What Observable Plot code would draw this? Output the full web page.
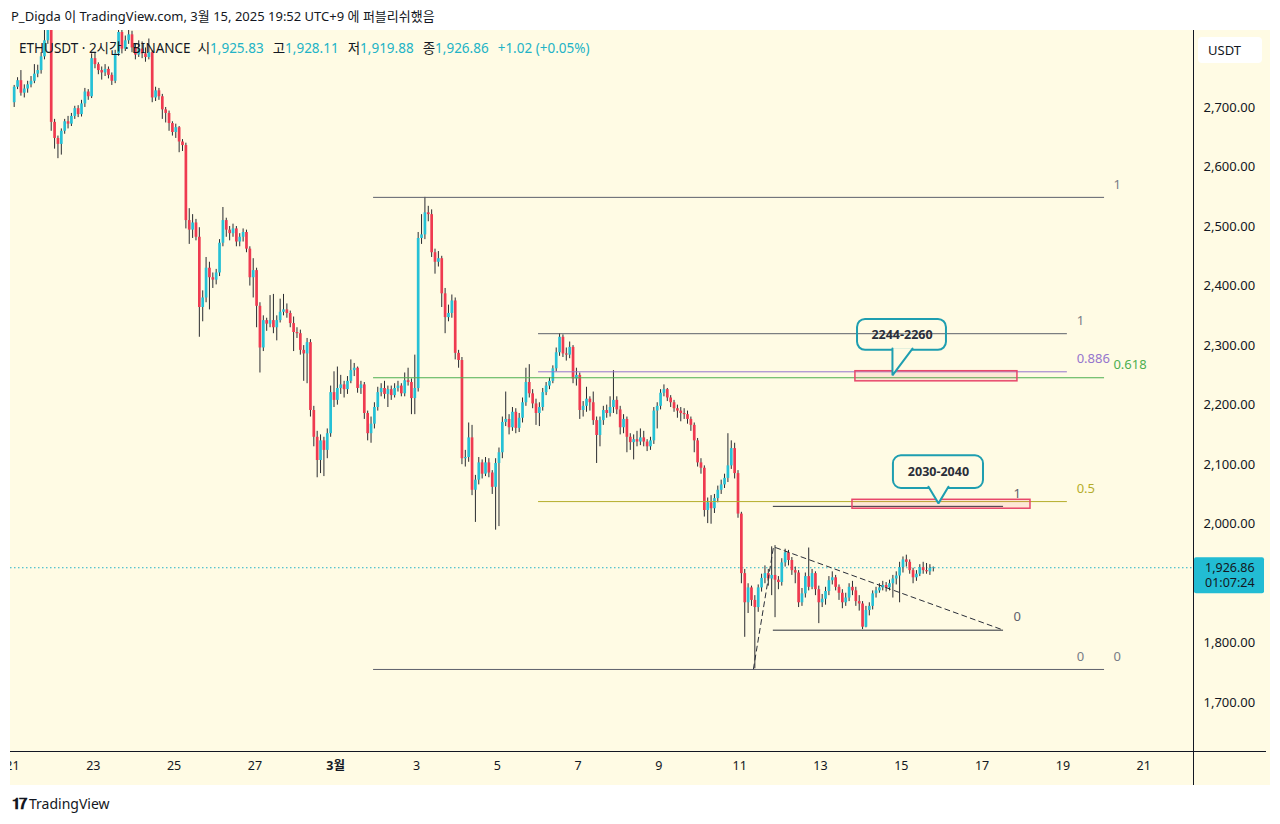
<!DOCTYPE html>
<html><head><meta charset="utf-8">
<script src="https://cdn.jsdelivr.net/npm/d3@7"></script>
<script src="https://cdn.jsdelivr.net/npm/@observablehq/plot@0.6"></script>
<style>
body{margin:0;width:1280px;height:824px;position:relative;overflow:hidden;background:#fff;font-family:"Noto Sans","Noto Sans CJK KR",sans-serif;color:#131722}
#pub{position:absolute;left:11px;top:7px;font-size:13px;line-height:18px;white-space:nowrap}
#chart{position:absolute;left:10px;top:30px;}
#legend{position:absolute;left:19px;top:39px;font-size:13.5px;line-height:18px;white-space:nowrap;color:#131722}
#legend .v{color:#22b3c6;margin-right:9px}
#foot{position:absolute;left:12px;top:794px;font-size:14px;line-height:18px;white-space:nowrap;color:#131722}
#foot b{font-size:15px;letter-spacing:-1px;margin-right:3px}
</style></head><body>
<div id="pub">P_Digda 이 TradingView.com, 3월 15, 2025 19:52 UTC+9 에 퍼블리쉬했음</div>
<div id="chart"></div>
<div id="legend">ETHUSDT · 2시간 · BINANCE &nbsp;시<span class="v">1,925.83</span>고<span class="v">1,928.11</span>저<span class="v">1,919.88</span>종<span class="v">1,926.86</span><span class="v">+1.02 (+0.05%)</span></div>
<div id="foot"><b>𝟏𝟕</b>TradingView</div>
<script>
// ---- data: 2-hour candles ETHUSDT, first candle 2025-02-21 01:00 (UTC+9) ----
const firstOpen = 2708;
const closes = [
2734,2745,2724,2731,2738,2744,2756,2762,2785,2812,
2832,2675,2648,2638,2660,2676,2672,2685,2698,2688,
2706,2726,2718,2782,2772,2762,2758,2764,2754,2744,
2790,2826,2798,2812,2822,2800,2788,2798,2790,2784,
2792,2716,2728,2718,2696,2690,2673,2658,2666,2642,
2636,2510,2494,2506,2482,2364,2380,2430,2414,2410,
2422,2472,2510,2494,2488,2496,2474,2482,2490,2462,
2414,2426,2366,2296,2342,2336,2342,2330,2342,2356,
2360,2354,2337,2322,2320,2292,2286,2305,2191,2146,
2107,2140,2124,2152,2221,2208,2228,2234,2226,2240,
2258,2262,2228,2234,2186,2152,2168,2196,2221,2228,
2218,2226,2216,2228,2232,2219,2241,2238,2211,2228,
2480,2486,2523,2520,2456,2440,2446,2387,2347,2354,
2375,2287,2275,2110,2112,2145,2057,2074,2103,2084,
2103,2086,2062,2102,2120,2171,2176,2162,2188,2161,
2178,2204,2238,2219,2202,2186,2196,2221,2232,2240,
2261,2288,2314,2286,2284,2297,2244,2250,2191,2198,
2210,2204,2174,2149,2174,2191,2186,2196,2208,2192,
2162,2176,2146,2137,2142,2138,2145,2138,2130,2140,
2190,2198,2220,2226,2212,2204,2194,2190,2186,2184,
2176,2166,2140,2103,2094,2023,2036,2026,2043,2057,
2066,2077,2098,2127,2085,2017,1917,1868,1893,1872,
1860,1893,1909,1917,1908,1914,1906,1902,1935,1952,
1939,1922,1918,1868,1883,1912,1894,1917,1890,1868,
1874,1887,1905,1910,1894,1884,1868,1876,1894,1888,
1870,1866,1827,1855,1862,1883,1888,1893,1897,1893,
1900,1908,1913,1927,1940,1936,1922,1910,1916,1927,
1922,1920,1925.84,1926.86];
const highs = [
2737,2750,2762,2738,2744,2752,2772,2771,2792,2840,
2856,2838,2680,2652,2664,2680,2685,2690,2702,2703,
2712,2732,2730,2790,2792,2775,2768,2772,2768,2758,
2796,2850,2830,2820,2845,2828,2806,2812,2810,2800,
2815,2795,2734,2732,2722,2700,2694,2676,2672,2668,
2646,2640,2530,2520,2512,2498,2392,2448,2440,2422,
2428,2478,2532,2514,2500,2504,2500,2488,2496,2494,
2466,2446,2430,2372,2350,2346,2384,2386,2350,2378,
2386,2370,2358,2348,2330,2326,2300,2312,2310,2198,
2156,2150,2146,2160,2232,2256,2264,2250,2240,2248,
2276,2270,2264,2240,2238,2190,2180,2204,2230,2236,
2240,2232,2232,2236,2240,2236,2254,2262,2244,2284,
2490,2520,2549,2534,2528,2462,2458,2450,2396,2368,
2385,2380,2292,2280,2124,2170,2166,2082,2112,2108,
2112,2110,2090,2110,2128,2180,2222,2184,2196,2194,
2186,2212,2262,2268,2226,2210,2204,2228,2238,2246,
2266,2296,2320,2318,2296,2306,2300,2262,2254,2206,
2230,2214,2222,2180,2180,2198,2200,2214,2258,2214,
2198,2184,2180,2152,2150,2156,2160,2156,2142,2146,
2196,2204,2226,2234,2228,2216,2208,2200,2196,2194,
2190,2180,2170,2144,2110,2098,2044,2048,2050,2064,
2074,2084,2152,2140,2136,2090,2020,1924,1900,1896,
1880,1898,1916,1930,1924,1962,1964,1912,1942,1958,
1956,1944,1928,1922,1892,1918,1960,1924,1920,1896,
1882,1894,1912,1920,1914,1898,1890,1884,1900,1904,
1894,1880,1870,1862,1868,1888,1894,1900,1904,1902,
1906,1914,1920,1936,1945,1948,1940,1926,1922,1932,
1936,1934,1932,1928.11];
const lows = [
2700,2730,2719,2716,2724,2733,2740,2750,2756,2780,
2806,2660,2630,2614,2620,2655,2664,2668,2680,2683,
2684,2700,2712,2715,2765,2755,2746,2752,2748,2737,
2740,2786,2790,2794,2806,2792,2780,2784,2782,2776,
2780,2708,2710,2712,2680,2674,2660,2652,2648,2624,
2626,2496,2470,2480,2476,2314,2340,2372,2360,2396,
2402,2416,2466,2482,2476,2482,2466,2466,2474,2456,
2400,2380,2330,2254,2290,2324,2330,2320,2308,2338,
2350,2346,2330,2290,2312,2284,2240,2236,2180,2130,
2078,2085,2080,2110,2146,2196,2200,2218,2212,2218,
2236,2248,2220,2218,2176,2140,2136,2160,2190,2214,
2210,2196,2208,2212,2222,2214,2214,2232,2184,2184,
2222,2470,2478,2508,2448,2420,2432,2364,2320,2340,
2346,2276,2262,2100,2096,2104,2048,2003,2066,2076,
2080,2078,2050,1990,1996,2110,2164,2150,2156,2152,
2154,2170,2198,2212,2194,2166,2164,2190,2216,2226,
2236,2256,2282,2280,2274,2278,2236,2232,2176,2180,
2188,2190,2166,2102,2130,2166,2178,2180,2186,2184,
2150,2152,2120,2124,2108,2130,2132,2130,2122,2124,
2134,2160,2192,2214,2206,2196,2188,2178,2172,2176,
2168,2156,2120,2096,2084,2012,2001,2000,2018,2036,
2050,2060,2070,2092,2076,2010,1900,1810,1850,1862,
1757,1852,1886,1900,1896,1880,1843,1890,1896,1928,
1930,1914,1900,1860,1862,1876,1888,1890,1880,1833,
1860,1864,1880,1898,1888,1872,1858,1862,1870,1880,
1862,1854,1823,1826,1846,1856,1876,1884,1888,1886,
1888,1876,1898,1868,1918,1928,1916,1900,1904,1912,
1916,1916,1914,1919.88];

// ---- drawings ----
const fibLines = [
  {x1:"2025-03-01T22:30Z", x2:"2025-03-20T00:45Z", price:2549, color:"#5d606b"},
  {x1:"2025-03-01T22:30Z", x2:"2025-03-20T00:45Z", price:2246, color:"#4caf50"},
  {x1:"2025-03-01T22:30Z", x2:"2025-03-20T00:45Z", price:1756, color:"#5d606b"},
  {x1:"2025-03-06T00:30Z", x2:"2025-03-19T02:40Z", price:2320, color:"#5d606b"},
  {x1:"2025-03-06T00:30Z", x2:"2025-03-19T02:40Z", price:2256, color:"#9575cd"},
  {x1:"2025-03-06T00:30Z", x2:"2025-03-19T02:40Z", price:2038, color:"#b5ad2b"},
  {x1:"2025-03-11T20:00Z", x2:"2025-03-17T12:45Z", price:2030, color:"#2a2e39"},
  {x1:"2025-03-11T20:00Z", x2:"2025-03-17T12:45Z", price:1822, color:"#2a2e39"}
];
const fibLabels = [
  {x:"2025-03-20T06:00Z", price:2549, text:"1", color:"#787b86"},
  {x:"2025-03-20T06:00Z", price:2246, text:"0.618", color:"#4caf50"},
  {x:"2025-03-20T06:00Z", price:1756, text:"0", color:"#787b86"},
  {x:"2025-03-19T08:10Z", price:2320, text:"1", color:"#787b86"},
  {x:"2025-03-19T08:10Z", price:2256, text:"0.886", color:"#9575cd"},
  {x:"2025-03-19T08:10Z", price:2038, text:"0.5", color:"#b5ad2b"},
  {x:"2025-03-19T08:10Z", price:1756, text:"0", color:"#787b86"},
  {x:"2025-03-17T18:40Z", price:2030, text:"1", color:"#5d606b"},
  {x:"2025-03-17T18:40Z", price:1822, text:"0", color:"#5d606b"}
];
const trendDash = [
  {t:"2025-03-11T08:10Z", price:1757},
  {t:"2025-03-11T20:05Z", price:1962},
  {t:"2025-03-17T12:45Z", price:1822}
];
const zones = [
  {x1:"2025-03-13T20:45Z", x2:"2025-03-17T21:00Z", lo:2240, hi:2257},
  {x1:"2025-03-13T19:00Z", x2:"2025-03-18T04:45Z", lo:2026, hi:2041}
];
const callouts = [
  {x1:"2025-03-13T22:00Z", x2:"2025-03-16T02:50Z", lo:2292, hi:2344, text:"2244-2260"},
  {x1:"2025-03-14T19:20Z", x2:"2025-03-17T00:50Z", lo:2060, hi:2115, text:"2030-2040"}
];
const pointers = [
  {id:1, t:"2025-03-14T18:45Z", price:2295},
  {id:1, t:"2025-03-14T18:45Z", price:2250},
  {id:1, t:"2025-03-15T06:40Z", price:2295},
  {id:2, t:"2025-03-15T16:10Z", price:2063},
  {id:2, t:"2025-03-15T22:05Z", price:2035},
  {id:2, t:"2025-03-16T04:00Z", price:2063}
];
const priceTicks = [2700,2600,2500,2400,2300,2200,2100,2000,1800,1700];
const dateTicks = ["2025-02-21","2025-02-23","2025-02-25","2025-02-27","2025-03-03","2025-03-05","2025-03-07","2025-03-09","2025-03-11","2025-03-13","2025-03-15","2025-03-17","2025-03-19","2025-03-21"];
const dateTickLabels = ["21","23","25","27","3","5","7","9","11","13","15","17","19","21"];
const monthTicks = ["2025-03-01"];
const monthTickLabels = ["3월"];
const lastPrice = 1926.86;
const countdown = "01:07:24";

// ---- build ----
const BG = "#fffbe4", UP = "#26c1d6", DOWN = "#ef3a50", TEAL = "#25b3c8";
const t0 = Date.UTC(2025,1,21,1), H2 = 2*3600e3, DAY = 864e5, base = Date.UTC(2025,1,21);
const candles = closes.map((c,i) => {
  const o = i === 0 ? firstOpen : closes[i-1];
  return {t:new Date(t0 + i*H2), o, c, h:Math.max(highs[i],o,c), l:Math.min(lows[i],o,c)};
});
const D = s => new Date(s);
const fmt = d3.format(",.2f");

const plot = Plot.plot({
  width:1260, height:755, marginLeft:0, marginRight:77, marginTop:0, marginBottom:34,
  style:{background:BG, fontFamily:'"Noto Sans","Noto Sans CJK KR",sans-serif', color:"#131722"},
  x:{type:"utc", domain:[new Date(base-0.0495*DAY), new Date(base+29.233*DAY)], axis:null},
  y:{domain:[1618.2, 2829.3], axis:null},
  marks:[
    Plot.ruleY([lastPrice], {stroke:TEAL, strokeDasharray:"1.5,2.5", strokeWidth:1}),
    Plot.ruleX(candles, {x:"t", y1:"l", y2:"h", stroke:"#2a2b30", strokeWidth:1, clip:true}),
    Plot.ruleX(candles.filter(d=>d.c>=d.o), {x:"t", y1:"o", y2:"c", stroke:UP, strokeWidth:2.7, clip:true}),
    Plot.ruleX(candles.filter(d=>d.c<d.o), {x:"t", y1:"o", y2:"c", stroke:DOWN, strokeWidth:2.7, clip:true}),
    Plot.ruleY(fibLines, {y:"price", x1:d=>D(d.x1), x2:d=>D(d.x2), stroke:d=>d.color, strokeWidth:1}),
    Plot.text(fibLabels, {x:d=>D(d.x), y:"price", text:"text", fill:d=>d.color, textAnchor:"start", dy:-13, fontSize:13}),
    Plot.line(trendDash, {x:d=>D(d.t), y:"price", stroke:"#2a2e39", strokeWidth:1, strokeDasharray:"5,4"}),
    Plot.rect(zones, {x1:d=>D(d.x1), x2:d=>D(d.x2), y1:"lo", y2:"hi", fill:"#f23660", fillOpacity:0.1, stroke:"#e8476b", strokeWidth:1.5}),
    Plot.rect(callouts, {x1:d=>D(d.x1), x2:d=>D(d.x2), y1:"lo", y2:"hi", fill:"none", stroke:"#1e9eb0", strokeWidth:2, rx:8, ry:8}),
    Plot.line(pointers, {x:d=>D(d.t), y:"price", z:"id", fill:BG, stroke:"#1e9eb0", strokeWidth:2, strokeLinejoin:"miter"}),
    Plot.text(callouts, {x:d=>new Date((D(d.x1).getTime()+D(d.x2).getTime())/2), y:d=>(d.lo+d.hi)/2, text:"text", fontSize:12.5, fontWeight:"bold", fill:"#2a2e39"}),
    Plot.text(priceTicks, {y:d=>d, text:d=>fmt(d), frameAnchor:"right", dx:10, textAnchor:"start", fontSize:13, fill:"#131722"}),
    Plot.text(dateTicks, {x:d=>D(d), text:(d,i)=>dateTickLabels[i], frameAnchor:"bottom", dy:18, fontSize:12.5, fill:"#131722"}),
    Plot.text(monthTicks, {x:d=>D(d), text:(d,i)=>monthTickLabels[i], frameAnchor:"bottom", dy:18, fontSize:12.5, fontWeight:"bold", fill:"#131722"})
  ]
});
document.getElementById("chart").appendChild(plot);

// axis frame, unit box and last-price tag using the plot's scales
const svg = d3.select(plot);
const xs = plot.scale("x"), ys = plot.scale("y");
const xr = xs.range[1], yb = ys.range[0];
svg.append("line").attr("x1",xr+0.5).attr("x2",xr+0.5).attr("y1",0).attr("y2",755).attr("stroke","#131722");
svg.append("line").attr("x1",0).attr("x2",1256).attr("y1",yb+0.5).attr("y2",yb+0.5).attr("stroke","#131722");
const ub = svg.append("g").attr("text-anchor","start");
ub.append("rect").attr("x",xr+5).attr("y",7).attr("width",64).attr("height",26).attr("rx",4).attr("fill","#fff");
ub.append("text").attr("x",xr+15).attr("y",20).attr("dy","0.35em").attr("font-size",13).attr("fill","#131722").text("USDT");
const yp = ys.apply(lastPrice);
const tag = svg.append("g").attr("text-anchor","start");
tag.append("rect").attr("x",xr+1).attr("y",yp-10).attr("width",70).attr("height",36).attr("rx",2).attr("fill","#22bcd3");
tag.append("text").attr("x",xr+12).attr("y",yp).attr("dy","0.35em").attr("font-size",12.5).attr("fill","#131722").text(fmt(lastPrice));
tag.append("text").attr("x",xr+12).attr("y",yp+15).attr("dy","0.35em").attr("font-size",12.5).attr("fill","#131722").text(countdown);
</script>
</body></html>
